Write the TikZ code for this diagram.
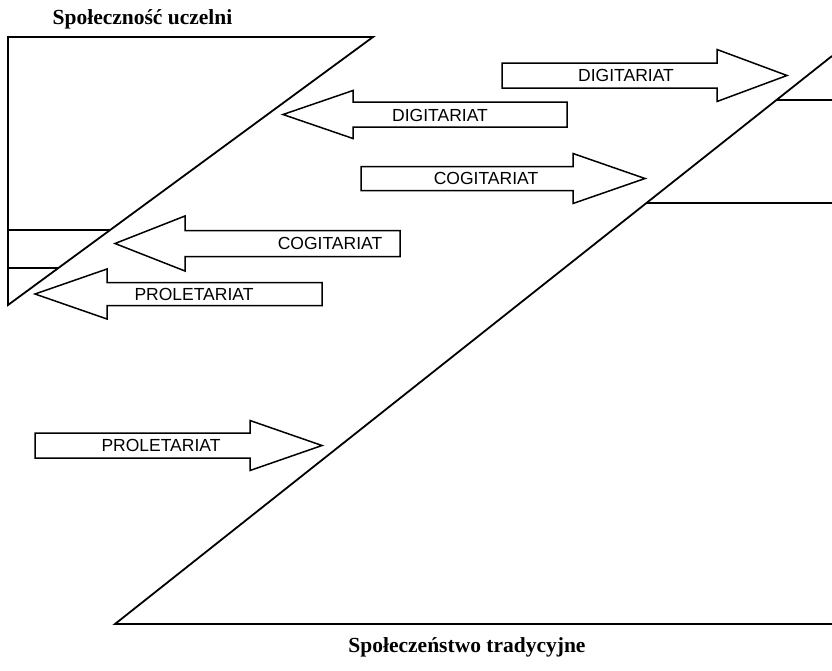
\documentclass[tikz,border=0pt]{standalone}
\usepackage{fontspec}
\setmainfont{Liberation Serif}
\newfontfamily\arrfont{Liberation Sans}
\usetikzlibrary{calc}
\tikzset{
  frame/.style={line width=1.8pt, line join=miter},
  thin frame/.style={line width=1.2pt},
  arrowbox/.style={draw, line width=1.5pt, fill=white, line join=miter},
  arrowlabel/.style={font=\arrfont\fontsize{17.5}{19}\selectfont, inner sep=0pt},
  title/.style={font=\bfseries\fontsize{21.5}{24}\selectfont, inner sep=0pt}
}
% right arrow: #1 left, #2 head base, #3 tip, #4 centre y, #5 half body, #6 half head
\newcommand{\rarrowshape}[6]{%
  \draw[arrowbox] (#1,#4-#5) -- (#2,#4-#5) -- (#2,#4-#6) -- (#3,#4) -- (#2,#4+#6) -- (#2,#4+#5) -- (#1,#4+#5) -- cycle;}
\begin{document}
\begin{tikzpicture}[x=1pt,y=-1pt]
\useasboundingbox (0,0) rectangle (832,670);
% left triangle
\coordinate (lt) at (8,37);
\coordinate (rt) at (373,37);
\coordinate (lb) at (8,305);
\draw[frame] (lt) -- (rt) -- (lb) -- cycle;
\coordinate (h1a) at (8,230);
\coordinate (h1b) at (110,230);
\coordinate (h2a) at (8,268);
\coordinate (h2b) at (58.4,268);
\draw[thin frame] (h1a) -- (h1b);
\draw[thin frame] (h2a) -- (h2b);
% right triangle
\coordinate (rtop) at (832,56);
\coordinate (rbl) at (115,624);
\coordinate (rbr) at (832,624);
\draw[frame] (rtop) -- (rbl) -- (rbr);
\coordinate (g1a) at (776,100);
\coordinate (g1b) at (832,100);
\coordinate (g2a) at (646,203);
\coordinate (g2b) at (832,203);
\draw[thin frame] (g1a) -- (g1b);
\draw[thin frame] (g2a) -- (g2b);
% arrows
\rarrowshape{502}{717}{787}{75.5}{12.5}{26}
\node[arrowlabel] (dr) at (626,75.5) {DIGITARIAT};
\rarrowshape{567}{353}{283}{114.5}{12.5}{24}
\node[arrowlabel] (dl) at (440,115) {DIGITARIAT};
\rarrowshape{361}{573}{645}{178.5}{12}{25}
\node[arrowlabel] (cr) at (486,178.5) {COGITARIAT};
\rarrowshape{400}{185}{115}{243.5}{13}{27.5}
\node[arrowlabel] (cl) at (330,243.5) {COGITARIAT};
\rarrowshape{322}{107}{35}{294}{11.5}{25}
\node[arrowlabel] (pl) at (194,294) {PROLETARIAT};
\rarrowshape{35}{250}{322}{445.5}{12.5}{25}
\node[arrowlabel] (pr) at (161,445.5) {PROLETARIAT};
% titles
\node[title] (t1) at (142.5,19) {Społeczność uczelni};
\node[title] (t2) at (467,647) {Społeczeństwo tradycyjne};
\end{tikzpicture}
\end{document}
